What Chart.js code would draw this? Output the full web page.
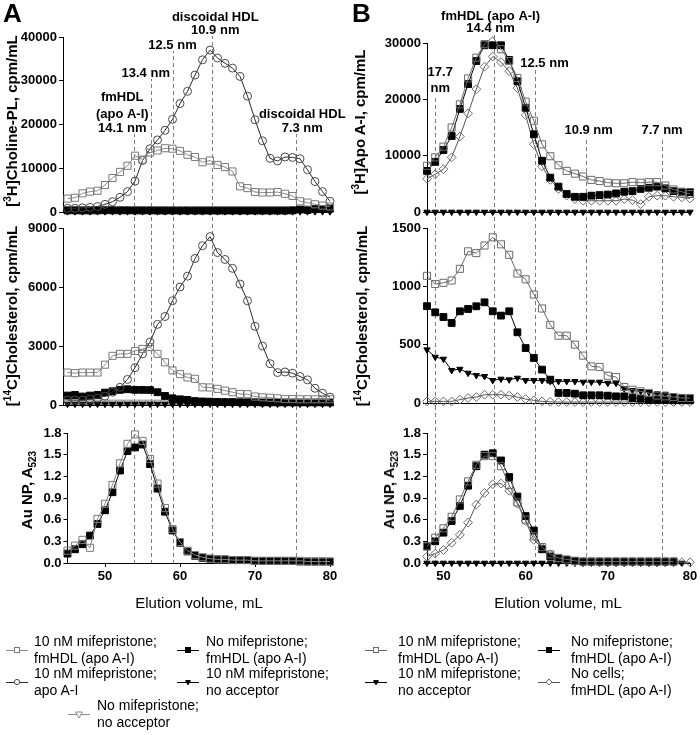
<!DOCTYPE html>
<html>
<head>
<meta charset="utf-8">
<title>Elution profiles</title>
<script src="https://cdn.jsdelivr.net/npm/chart.js"></script>
<style>
  html, body { margin:0; padding:0; background:#fff; }
  #fig { position:relative; width:700px; height:735px; overflow:hidden; background:#fff;
         font-family:"Liberation Sans", Arial, Helvetica, sans-serif; color:#000; }
  #fig canvas { position:absolute; pointer-events:none; }
  .txt { position:absolute; white-space:nowrap; }
  .ytitle { position:absolute; white-space:nowrap; font-size:15px; font-weight:bold; line-height:18px;
            transform:translate(-50%,-50%) rotate(-90deg); }
  .ytitle sup, .ytitle sub { font-size:10px; line-height:0; }
  .lgtext { position:absolute; font-size:14px; line-height:17px; white-space:nowrap; }
  .lgmark { position:absolute; }
</style>
</head>
<body>
<div id="fig"></div>
<script>
// ======================= DATA =======================
const elutionA = [45,46,47,48,49,50,51,52,53,54,55,56,57,58,59,60,61,62,63,64,65,66,67,68,69,70,71,72,73,74,75,76,77,78,79,80];
const elutionB = [48,49,50,51,52,53,54,55,56,57,58,59,60,61,62,63,64,65,66,67,68,69,70,71,72,73,74,75,76,77,78,79,80];

// Panel A, [3H]Choline-PL (cpm/mL)
const plA_mife_fmHDL   = [3100,3300,4300,4700,4900,6200,7800,9200,10600,12900,12000,13600,14100,14600,14500,14000,13100,12600,11400,11800,10800,10300,9300,5900,5500,4600,4500,4500,4600,4200,3700,2500,2200,1800,1500,1300];
const plA_noMife_fmHDL = [400,400,380,380,400,420,420,400,400,380,380,380,360,360,360,350,350,350,350,350,350,350,350,350,350,350,350,350,350,350,400,600,500,700,700,800];
const plA_mife_apoAI   = [900,900,1000,1100,1300,1800,2400,3400,4700,7100,11800,14500,16500,18700,21200,24800,27600,31300,34800,37000,35200,34000,32900,31000,26500,21100,16300,12300,11700,12600,12500,12200,9700,7000,4700,2500];
const plA_mife_noAcc   = [150,150,150,150,150,150,150,150,150,150,150,150,150,150,150,150,150,150,150,150,150,150,150,150,150,150,150,150,150,150,150,150,150,150,150,150];
const plA_noMife_noAcc = [800,800,800,800,800,800,800,800,800,800,800,800,800,800,800,800,800,800,800,800,800,800,800,800,800,800,800,800,800,800,800,800,800,800,800,800];

// Panel A, [14C]Cholesterol (cpm/mL)
const chA_mife_fmHDL   = [1650,1620,1650,1650,1650,2050,2500,2600,2600,2750,2850,2950,2600,2170,1760,1570,1400,1330,900,890,820,730,650,560,550,430,390,370,340,300,300,290,290,290,290,290];
const chA_noMife_fmHDL = [480,510,430,480,510,630,700,770,800,770,770,760,650,460,340,290,260,200,180,170,160,150,150,140,140,140,130,130,130,130,130,130,130,130,130,130];
const chA_mife_apoAI   = [250,250,250,300,350,450,650,900,1300,1900,2600,3200,4100,4500,5300,6000,6550,7450,8100,8560,7750,7400,6950,6150,5300,4000,3000,2100,1650,1680,1620,1450,1280,850,600,400];
const chA_mife_noAcc   = [50,50,50,50,50,50,50,50,50,50,50,50,50,50,50,50,50,50,50,50,50,50,50,50,50,50,50,50,50,50,50,50,50,50,50,50];
const chA_noMife_noAcc = [140,140,140,140,140,140,140,140,140,140,140,140,140,140,140,140,140,140,140,140,140,140,140,140,140,140,140,140,140,140,140,140,140,140,140,140];

// Panel A, Au NP (A523)
const auA_mife_fmHDL   = [0.17,0.24,0.32,0.21,0.61,0.82,1.08,1.38,1.65,1.78,1.69,1.44,1.10,0.76,0.47,0.29,0.17,0.11,0.08,0.06,0.05,0.05,0.04,0.04,0.04,0.03,0.03,0.03,0.03,0.03,0.03,0.03,0.02,0.02,0.02,0.02];
const auA_noMife_fmHDL = [0.13,0.19,0.26,0.38,0.54,0.73,0.98,1.28,1.55,1.60,1.64,1.37,1.03,0.71,0.45,0.28,0.16,0.10,0.07,0.06,0.05,0.05,0.04,0.04,0.04,0.03,0.03,0.03,0.03,0.03,0.03,0.02,0.02,0.02,0.02,0.02];

// Panel B, [3H]Apo A-I (cpm/mL)
const apB_mife_fmHDL    = [8200,9700,11600,15000,19100,23700,27400,29800,31100,28900,26800,23800,19600,16200,12000,9900,8300,7300,6800,6300,5700,5500,5200,5100,5100,5300,5200,5300,5300,4700,4000,3600,3200];
const apB_noMife_fmHDL  = [7300,8900,11000,13500,18300,22700,26800,29600,29600,29600,27000,23200,18500,13800,9100,6100,4500,3200,2700,2700,2900,3000,3100,3300,3600,3700,4100,4300,4500,4200,3700,3500,3500];
const apB_mife_noAcc    = [0,0,0,0,0,0,0,0,0,0,0,0,0,0,0,0,0,0,0,0,0,0,0,0,0,0,0,0,0,0,0,0,0];
const apB_noCells_fmHDL = [5900,6700,7600,9700,13400,17500,21800,25800,27600,26600,25000,22000,17200,12000,8100,5700,4100,2900,2300,2000,2000,2000,2000,2000,2300,2100,1400,2700,2900,2900,2700,2600,2400];

// Panel B, [14C]Cholesterol (cpm/mL)
const chB_mife_fmHDL    = [1090,1020,1030,1050,1150,1300,1285,1350,1420,1360,1270,1110,1060,930,810,670,577,577,500,406,314,309,234,223,137,114,100,86,63,57,51,43,43];
const chB_noMife_fmHDL  = [830,777,737,686,786,806,829,863,786,749,786,606,471,386,286,200,86,86,80,66,66,66,63,57,57,43,37,29,29,29,23,23,23];
const chB_mife_noAcc    = [457,394,377,280,291,257,237,229,194,206,200,214,194,194,194,186,186,186,186,180,180,180,171,171,123,109,100,91,80,77,66,57,51];
const chB_noCells_fmHDL = [14,14,14,14,29,43,51,71,71,71,63,51,34,23,14,10,8,8,8,8,8,8,8,8,8,8,8,8,8,8,8,8,8];

// Panel B, Au NP (A523)
const auB_mife_fmHDL    = [0.23,0.35,0.48,0.64,0.88,1.13,1.36,1.48,1.48,1.34,1.08,0.84,0.60,0.37,0.22,0.12,0.07,0.05,0.03,0.02,0.02,0.02,0.02,0.02,0.02,0.02,0.02,0.02,0.02,0.02,0.02,null,null];
const auB_noMife_fmHDL  = [0.23,0.30,0.42,0.58,0.79,1.07,1.34,1.50,1.52,1.42,1.19,0.92,0.65,0.45,0.19,0.09,0.06,0.04,0.03,0.02,0.02,0.02,0.02,0.02,0.02,0.02,0.02,0.02,0.02,0.02,0.02,null,null];
const auB_mife_noAcc    = [0,0,0,0,0,0,0,0,0,0,0,0,0,0,0,0,0,0,0,0,0,0,0,0,0,0,0,0,0,0,0,0,null];
const auB_noCells_fmHDL = [0.09,0.13,0.18,0.28,0.39,0.56,0.81,0.97,1.09,1.10,1.00,0.82,0.58,0.32,0.21,0.12,0.06,0.03,0.02,0.01,0.01,0.01,0.01,0.01,0.01,0.01,0.01,0.01,0.01,0.01,0.01,0.01,0.01];

// Tick values
const ticksA_PL   = [0,10000,20000,30000,40000];
const ticksA_Chol = [0,3000,6000,9000];
const ticksB_Apo  = [0,10000,20000,30000];
const ticksB_Chol = [0,500,1000,1500];
const ticksAuNP   = [0,0.3,0.6,0.9,1.2,1.5,1.8];
const ticksElution = [50,60,70,80];

// Particle-size reference lines (elution volume, mL) and their labels
const sizeLinesA  = [53.9, 56.1, 59.0, 64.3, 75.5];
const sizeLabelsA = [['fmHDL','(apo A-I)','14.1 nm'], ['13.4 nm'], ['12.5 nm'], ['discoidal HDL','10.9 nm'], ['discoidal HDL','7.3 nm']];
const sizeLinesB  = [49.0, 56.1, 61.2, 67.3, 76.6];
const sizeLabelsB = [['17.7','nm'], ['fmHDL (apo A-I)','14.4 nm'], ['12.5 nm'], ['10.9 nm'], ['7.7 nm']];

// Legend texts
const legendA = [['10 nM mifepristone;','fmHDL (apo A-I)'], ['No mifepristone;','fmHDL (apo A-I)'], ['10 nM mifepristone;','apo A-I'], ['10 nM mifepristone;','no acceptor'], ['No mifepristone;','no acceptor']];
const legendB = [['10 nM mifepristone;','fmHDL (apo A-I)'], ['No mifepristone;','fmHDL (apo A-I)'], ['10 nM mifepristone;','no acceptor'], ['No cells;','fmHDL (apo A-I)']];

// ======================= STYLE / LAYOUT =======================
const FONT = '"Liberation Sans", Arial, Helvetica, sans-serif';
Chart.defaults.font.family = FONT;
Chart.defaults.color = '#000';

const CLEAR = 'rgba(255,255,255,0)';
const ST = {
  sqOpenA: {borderColor:'#8a8a8a', pointBorderColor:'#7a7a7a', pointBackgroundColor:CLEAR, pointStyle:'rect', pointRadius:5},
  sqOpenB: {borderColor:'#6a6a6a', pointBorderColor:'#6a6a6a', pointBackgroundColor:CLEAR, pointStyle:'rect', pointRadius:5},
  sqFill:  {borderColor:'#000', pointBorderColor:'#000', pointBackgroundColor:'#000', pointStyle:'rect', pointRadius:4.8},
  circ:    {borderColor:'#2a2a2a', pointBorderColor:'#4a4a4a', pointBackgroundColor:CLEAR, pointStyle:'circle', pointRadius:4},
  triDown: {borderColor:'#000', pointBorderColor:'#000', pointBackgroundColor:'#000', pointStyle:'triangle', pointRotation:180, pointRadius:3.6},
  triOpen: {borderColor:'#8a8a8a', pointBorderColor:'#8a8a8a', pointBackgroundColor:CLEAR, pointStyle:'triangle', pointRotation:180, pointRadius:4.2},
  dia:     {borderColor:'#555', pointBorderColor:'#6a6a6a', pointBackgroundColor:CLEAR, pointStyle:'rectRot', pointRadius:4.4}
};

const fig = document.getElementById('fig');

function series(xs, ys, st) {
  return Object.assign({
    data: xs.map((x, i) => ({x: x, y: ys[i]})),
    borderWidth: 1, pointBorderWidth: 1, tension: 0, clip: false, spanGaps: false, fill: false
  }, st);
}

function sizePlugin(o) {
  return {
    id: 'sizeMarkers',
    beforeDatasetsDraw(chart) {
      const ctx = chart.ctx, xs = chart.scales.x;
      ctx.save();
      ctx.strokeStyle = '#7d7d7d'; ctx.lineWidth = 1; ctx.setLineDash([4, 3]);
      o.values.forEach((v, i) => {
        const px = Math.round(xs.getPixelForValue(v)) + 0.5;
        const absStart = o.layout ? o.layout[i].top : o.absTop + o.from;
        const y0 = absStart - o.absTop;
        const y1 = o.to === 'area' ? chart.chartArea.bottom : o.to;
        ctx.lineDashOffset = absStart % 7;
        ctx.beginPath(); ctx.moveTo(px, y0); ctx.lineTo(px, y1); ctx.stroke();
      });
      ctx.restore();
    },
    afterDraw(chart) {
      if (!o.labels) return;
      const ctx = chart.ctx, xs = chart.scales.x;
      ctx.save();
      ctx.font = 'bold 13px ' + FONT; ctx.fillStyle = '#000';
      ctx.textAlign = 'center'; ctx.textBaseline = 'middle';
      o.labels.forEach((lines, i) => {
        const L = o.layout[i];
        const px = xs.getPixelForValue(o.values[i]) + L.dx;
        lines.forEach((t, j) => ctx.fillText(t, px, L.ys[j] - o.absTop));
      });
      ctx.restore();
    }
  };
}

function panel(cfg) {
  const c = document.createElement('canvas');
  c.width = cfg.w; c.height = cfg.h;
  c.style.left = cfg.left + 'px'; c.style.top = cfg.top + 'px';
  c.style.width = cfg.w + 'px'; c.style.height = cfg.h + 'px';
  fig.appendChild(c);
  const yW = cfg.area.l - cfg.left;
  const xH = cfg.xLabels ? 22 : 1;
  const pad = {left: 0, top: cfg.area.t - cfg.top, right: cfg.left + cfg.w - cfg.area.r,
               bottom: cfg.top + cfg.h - cfg.area.b - xH};
  return new Chart(c, {
    type: 'line',
    data: {datasets: cfg.datasets},
    options: {
      responsive: false, animation: false, devicePixelRatio: 1, events: [],
      layout: {padding: pad},
      plugins: {legend: {display: false}, tooltip: {enabled: false}},
      scales: {
        x: {
          type: 'linear', min: cfg.xMin, max: cfg.xMax,
          afterFit: s => { s.height = xH; },
          afterBuildTicks: s => { s.ticks = ticksElution.map(v => ({value: v})); },
          grid: {display: !!cfg.xLabels, drawOnChartArea: false, drawTicks: true, tickLength: 4, color: '#000', tickColor: '#000'},
          border: {display: true, color: '#000', width: 1},
          ticks: {display: !!cfg.xLabels, font: {size: 13, weight: 'bold'}, color: '#000', padding: 2, maxRotation: 0, autoSkip: false}
        },
        y: {
          type: 'linear', min: 0, max: cfg.yMax,
          afterFit: s => { s.width = yW; },
          afterBuildTicks: s => { s.ticks = cfg.yTicks.map(v => ({value: v})); },
          grid: {drawOnChartArea: false, drawTicks: true, tickLength: 4, color: '#000', tickColor: '#000'},
          border: {display: true, color: '#000', width: 1},
          ticks: {font: {size: 13, weight: 'bold'}, color: '#000', padding: 2, autoSkip: false, callback: cfg.yFmt}
        }
      }
    },
    plugins: [sizePlugin(cfg.size)]
  });
}

const fmtInt = v => String(v);
const fmt1 = v => Number(v).toFixed(1);

// label layouts (pixel offsets / rows)
const labLayoutA = [
  {dx: -12, ys: [97, 114, 128], top: 134},
  {dx: -5,  ys: [73], top: 79},
  {dx: 0,   ys: [45], top: 51},
  {dx: 3,   ys: [17, 30], top: 36},
  {dx: 6,   ys: [114, 128], top: 134}
];
const labLayoutB = [
  {dx: 5,  ys: [72, 88], top: 95},
  {dx: -3, ys: [16, 28], top: 34},
  {dx: 9,  ys: [63], top: 70},
  {dx: 3,  ys: [130], top: 137},
  {dx: 0,  ys: [130], top: 137}
];

// ---------- Column A ----------
panel({left: 0, top: 0, w: 350, h: 222, area: {l: 63, t: 37, r: 330, b: 213},
  xMin: 44.4, xMax: 80, yMax: 40000, yTicks: ticksA_PL, yFmt: fmtInt,
  size: {values: sizeLinesA, labels: sizeLabelsA, layout: labLayoutA, absTop: 0, to: 222},
  datasets: [
    series(elutionA, plA_mife_fmHDL, ST.sqOpenA),
    series(elutionA, plA_mife_apoAI, ST.circ),
    series(elutionA, plA_noMife_fmHDL, ST.sqFill),
    series(elutionA, plA_mife_noAcc, ST.triDown),
    series(elutionA, plA_noMife_noAcc, ST.triOpen)
  ]});
panel({left: 0, top: 212, w: 350, h: 204, area: {l: 63, t: 228, r: 330, b: 405},
  xMin: 44.4, xMax: 80, yMax: 9000, yTicks: ticksA_Chol, yFmt: fmtInt,
  size: {values: sizeLinesA, absTop: 212, from: 10, to: 204},
  datasets: [
    series(elutionA, chA_mife_fmHDL, ST.sqOpenA),
    series(elutionA, chA_mife_apoAI, ST.circ),
    series(elutionA, chA_noMife_fmHDL, ST.sqFill),
    series(elutionA, chA_mife_noAcc, ST.triDown),
    series(elutionA, chA_noMife_noAcc, ST.triOpen)
  ]});
panel({left: 0, top: 416, w: 350, h: 170, area: {l: 67.5, t: 433, r: 330, b: 563}, xLabels: true,
  xMin: 45, xMax: 80, yMax: 1.8, yTicks: ticksAuNP, yFmt: fmt1,
  size: {values: sizeLinesA, absTop: 416, from: 0, to: 'area'},
  datasets: [
    series(elutionA, auA_mife_fmHDL, ST.sqOpenA),
    series(elutionA, auA_noMife_fmHDL, ST.sqFill)
  ]});

// ---------- Column B ----------
panel({left: 350, top: 0, w: 350, h: 222, area: {l: 427, t: 43, r: 690, b: 212},
  xMin: 48, xMax: 80, yMax: 30000, yTicks: ticksB_Apo, yFmt: fmtInt,
  size: {values: sizeLinesB, labels: sizeLabelsB, layout: labLayoutB, absTop: 0, to: 222},
  datasets: [
    series(elutionB, apB_mife_fmHDL, ST.sqOpenB),
    series(elutionB, apB_noMife_fmHDL, ST.sqFill),
    series(elutionB, apB_noCells_fmHDL, ST.dia),
    series(elutionB, apB_mife_noAcc, ST.triDown)
  ]});
panel({left: 350, top: 212, w: 350, h: 204, area: {l: 427, t: 228, r: 690, b: 403},
  xMin: 48, xMax: 80, yMax: 1500, yTicks: ticksB_Chol, yFmt: fmtInt,
  size: {values: sizeLinesB, absTop: 212, from: 10, to: 204},
  datasets: [
    series(elutionB, chB_mife_fmHDL, ST.sqOpenB),
    series(elutionB, chB_noMife_fmHDL, ST.sqFill),
    series(elutionB, chB_mife_noAcc, ST.triDown),
    series(elutionB, chB_noCells_fmHDL, ST.dia)
  ]});
panel({left: 350, top: 416, w: 350, h: 170, area: {l: 427, t: 433, r: 690, b: 563}, xLabels: true,
  xMin: 48, xMax: 80, yMax: 1.8, yTicks: ticksAuNP, yFmt: fmt1,
  size: {values: sizeLinesB, absTop: 416, from: 0, to: 'area'},
  datasets: [
    series(elutionB, auB_mife_fmHDL, ST.sqOpenB),
    series(elutionB, auB_noMife_fmHDL, ST.sqFill),
    series(elutionB, auB_noCells_fmHDL, ST.dia),
    series(elutionB, auB_mife_noAcc, ST.triDown)
  ]});

// ======================= TEXT =======================
function addText(html, css, cls) {
  const d = document.createElement('div');
  d.className = cls || 'txt';
  d.innerHTML = html;
  Object.assign(d.style, css);
  fig.appendChild(d);
  return d;
}
// panel letters
addText('A', {left: '3px', top: '0px', fontSize: '26px', fontWeight: 'bold', lineHeight: '26px'});
addText('B', {left: '352px', top: '0px', fontSize: '26px', fontWeight: 'bold', lineHeight: '26px'});
// y-axis titles
const yTitles = [
  ['[<sup>3</sup>H]Choline-PL, cpm/mL', 12, 121],
  ['[<sup>14</sup>C]Cholesterol, cpm/mL', 12, 316],
  ['Au NP, A<sub>523</sub>', 27, 490],
  ['[<sup>3</sup>H]Apo A-I, cpm/mL', 360, 122],
  ['[<sup>14</sup>C]Cholesterol, cpm/mL', 362, 316],
  ['Au NP, A<sub>523</sub>', 389, 490]
];
yTitles.forEach(t => addText(t[0], {left: t[1] + 'px', top: t[2] + 'px'}, 'ytitle'));
// x-axis titles
[199, 558].forEach(cx => addText('Elution volume, mL',
  {left: cx + 'px', top: '603px', fontSize: '15px', lineHeight: '18px', transform: 'translate(-50%,-50%)'}));

// legend
function markerSVG(st) {
  const w = 22, h = 12, cx = 11, cy = 6;
  const lineC = st.borderColor, pc = st.pointBorderColor;
  const fillC = st.pointBackgroundColor === CLEAR ? '#fff' : st.pointBackgroundColor;
  let m = '';
  if (st.pointStyle === 'rect') m = `<rect x="${cx-2.5}" y="${cy-2.5}" width="5" height="5" fill="${fillC}" stroke="${pc}" stroke-width="1"/>`;
  else if (st.pointStyle === 'circle') m = `<circle cx="${cx}" cy="${cy}" r="2.6" fill="${fillC}" stroke="${pc}" stroke-width="1"/>`;
  else if (st.pointStyle === 'rectRot') m = `<polygon points="${cx},${cy-3} ${cx+3},${cy} ${cx},${cy+3} ${cx-3},${cy}" fill="${fillC}" stroke="${pc}" stroke-width="1"/>`;
  else if (st.pointStyle === 'triangle') {
    const r = st.pointBackgroundColor === CLEAR ? 4 : 2.8;
    m = `<polygon points="${cx-r*0.87},${cy-r/2} ${cx+r*0.87},${cy-r/2} ${cx},${cy+r}" fill="${fillC}" stroke="${pc}" stroke-width="1"/>`;
  }
  return `<svg width="${w}" height="${h}" xmlns="http://www.w3.org/2000/svg"><line x1="0" y1="${cy+0.5}" x2="${w}" y2="${cy+0.5}" stroke="${lineC}" stroke-width="1"/>${m}</svg>`;
}
function legendItem(st, mx, my, tx, lines, y1) {
  addText(markerSVG(st), {left: (mx - 11) + 'px', top: (my - 6) + 'px', lineHeight: '0'}, 'lgmark');
  addText(lines.join('<br>'), {left: tx + 'px', top: (y1 - 8.5) + 'px'}, 'lgtext');
}
const legStylesA = [ST.sqOpenA, ST.sqFill, ST.circ, ST.triDown, ST.triOpen];
const legPosA = [[17, 650, 34, 641], [188, 650, 206, 641], [17, 682, 34, 673], [188, 682, 206, 673], [79, 714, 97, 705]];
legendA.forEach((lines, i) => legendItem(legStylesA[i], legPosA[i][0], legPosA[i][1], legPosA[i][2], lines, legPosA[i][3]));
const legStylesB = [ST.sqOpenB, ST.sqFill, ST.triDown, ST.dia];
const legPosB = [[376, 650, 398, 641], [549, 650, 571, 641], [376, 682, 398, 673], [549, 682, 571, 673]];
legendB.forEach((lines, i) => legendItem(legStylesB[i], legPosB[i][0], legPosB[i][1], legPosB[i][2], lines, legPosB[i][3]));
</script>
</body>
</html>
